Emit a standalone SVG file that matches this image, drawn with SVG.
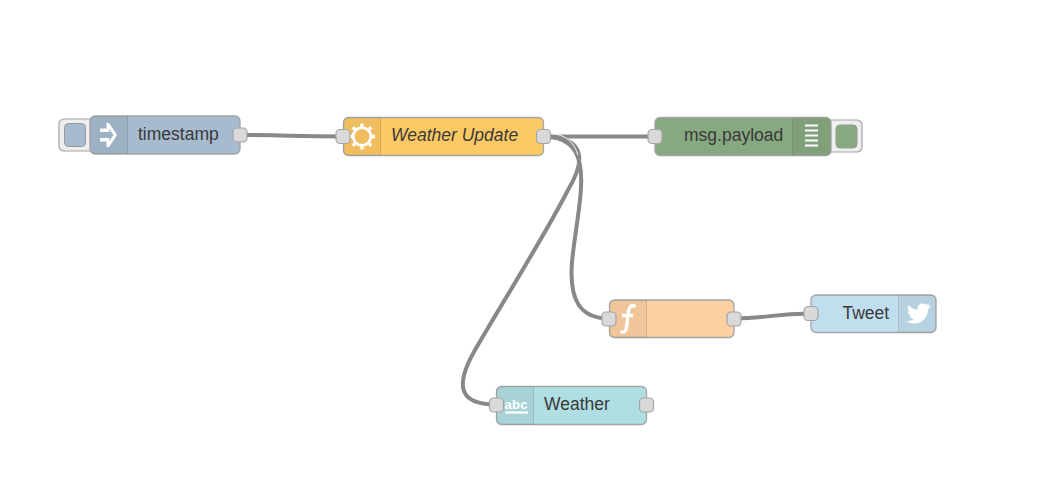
<svg xmlns="http://www.w3.org/2000/svg" width="1045" height="503" viewBox="0 0 1045 503">
<style>
.body{stroke:#a4a4a4;stroke-width:1.3}
.iconbg{fill:#000;fill-opacity:.05}
.sep{stroke:#000;stroke-opacity:.1;stroke-width:1;fill:none}
.port{fill:#d9d9d9;stroke:#a4a4a4;stroke-width:1.2}
.btn{fill:#eee;stroke:#a4a4a4;stroke-width:1.2}
.wire{fill:none;stroke:#888;stroke-width:4}
.halo{fill:none;stroke:#fff;stroke-width:1;opacity:.9}
.lbl{font-family:"Liberation Sans",Arial,sans-serif;font-size:17.500px;fill:#3a3a3a}
.ic{fill:#fff}
.ics{fill:none;stroke:#fff}
</style>
<rect width="1045" height="503" fill="#fff"/>
<g id="connectors">
<path class="wire" d="M240 135C290 135 290 136.500 343 136.500"/>
<path class="wire" d="M543 136.500H655"/>
<path class="wire" d="M543 136.500C600 136.500 578 200 572 262C569 300 580 318.500 609 318.500"/>
<path class="wire" d="M543 136.500C590 136.500 583 165 568 190C545 235 510 290 475 350C455 385 458 404.500 496 404.500"/>
<path class="wire" d="M734 318.500C770 318.500 770 313.500 811 313.500"/>
<path class="halo" d="M552 133.500C566 135 574 142 578 155"/>
</g>
<g id="node-timestamp">
<rect class="btn" x="59" y="119" width="36" height="32" rx="5"/>
<rect x="64.500" y="123.500" width="21" height="23" rx="4" fill="#a6bbcf" stroke="#999"/>
<rect class="body" x="90" y="116" width="150" height="38" rx="5" fill="#a6bbcf"/>
<path class="iconbg" d="M95 116H128V154H95a5 5 0 0 1-5-5V121a5 5 0 0 1 5-5Z"/>
<path class="sep" d="M127.500 116V154"/>
<path class="ic" d="M100 128.500h6.500v-5.500h2.500l8 12-8 12h-2.500v-5.500H100v-3.500h9.500l-.5 3.500 4.500-6.500-4.500-6.500.5 3.500H100Z"/>
<text class="lbl" x="138" y="140">timestamp</text>
<rect class="port" x="233" y="128" width="14" height="14" rx="4"/>
</g>
<g id="node-weather-update">
<rect class="body" x="343.500" y="117.500" width="200" height="38" rx="5" fill="#fdc964"/>
<path class="iconbg" d="M348.500 117.500H381V155.500H348.500a5 5 0 0 1-5-5V122.500a5 5 0 0 1 5-5Z"/>
<path class="sep" d="M380.500 117.500V155.500"/>
<circle cx="362" cy="136.500" r="8.800" class="ics" stroke-width="2.800"/>
<g class="ics" stroke-width="3.400"><path d="M362 123.500v3M362 146.500v3M349 136.500h3M372 136.500h3M352.800 127.300l2.100 2.100M369.100 143.600l2.100 2.100M352.800 145.700l2.100-2.100M369.100 129.400l2.100-2.100"/></g>
<text class="lbl" x="391" y="141" font-style="italic">Weather Update</text>
<rect class="port" x="336" y="129.500" width="14" height="14" rx="4"/>
<rect class="port" x="536.500" y="129.500" width="14" height="14" rx="4"/>
</g>
<g id="node-msg-payload">
<rect class="btn" x="826" y="120" width="36" height="32" rx="5"/>
<rect x="836" y="125" width="21" height="23" rx="4" fill="#87a980" stroke="#999"/>
<rect class="body" x="655" y="117.500" width="176" height="38" rx="5" fill="#87a980"/>
<path class="iconbg" d="M792.500 117.500H826a5 5 0 0 1 5 5V150.500a5 5 0 0 1-5 5H792.500Z"/>
<path class="sep" d="M792.500 117.500V155.500"/>
<path class="ics" stroke-width="2" d="M805 125.500h13M805 130.500h13M805 135.500h13M805 140.500h13M805 145.500h13"/>
<text class="lbl" x="684" y="141">msg.payload</text>
<rect class="port" x="648" y="129.500" width="14" height="14" rx="4"/>
</g>
<g id="node-function">
<rect class="body" x="609.500" y="300" width="124.500" height="37.500" rx="5" fill="#fdd0a2"/>
<path class="iconbg" d="M614.500 300H647V337.500H614.500a5 5 0 0 1-5-5V305a5 5 0 0 1 5-5Z"/>
<path class="sep" d="M646.500 300V337.500"/>
<path class="ics" stroke-width="3.400" d="M635.500 306.500C631 304.500 629 307 628.500 311L626.500 327C626 331.500 624 333 620.500 331.500M622 315.500h11"/>
<rect class="port" x="602" y="312" width="14" height="14" rx="4"/>
<rect class="port" x="727" y="312" width="14" height="14" rx="4"/>
</g>
<g id="node-tweet">
<rect class="body" x="811" y="295" width="125" height="37.500" rx="5" fill="#c0deed"/>
<path class="iconbg" d="M898.500 295H931a5 5 0 0 1 5 5V327.500a5 5 0 0 1-5 5H898.500Z"/>
<path class="sep" d="M898.500 295V332.500"/>
<path class="ic" d="M930 305.500c-1 .6-2 1-3.100 1.100 1.100-.7 2-1.700 2.400-3-1 .6-2.200 1-3.400 1.300-2.800-3-8.600-.8-8.400 3.700v1.100c-3.700-.2-7-2-9.100-4.700-1.300 2.300-.5 5.100 1.500 6.500-.8 0-1.600-.2-2.300-.6 0 2.400 1.700 4.300 4 4.800-.7.200-1.500.2-2.200.1.600 1.900 2.400 3.300 4.500 3.300-2 1.600-4.700 2.400-7.300 2.100 8.500 5.300 20.800 1.200 21.400-11.800 1-.8 1.900-1.900 2-3.400Z"/>
<text class="lbl" x="842.500" y="319">Tweet</text>
<rect class="port" x="804" y="306.500" width="14" height="14" rx="4"/>
</g>
<g id="node-weather">
<rect class="body" x="496.500" y="386.500" width="150" height="38" rx="5" fill="#b0dfe3"/>
<path class="iconbg" d="M501.500 386.500H534V424.500H501.500a5 5 0 0 1-5-5V391.500a5 5 0 0 1 5-5Z"/>
<path class="sep" d="M533.500 386.500V424.500"/>
<text x="504.500" y="409" font-family="'Liberation Sans',Arial,sans-serif" font-size="13" font-weight="700" fill="#fff" textLength="23">abc</text>
<path class="ics" stroke-width="2.200" d="M505 412.500h23"/>
<text class="lbl" x="544" y="410">Weather</text>
<rect class="port" x="489.500" y="398" width="14" height="14" rx="4"/>
<rect class="port" x="639.500" y="398" width="14" height="14" rx="4"/>
</g>
</svg>
